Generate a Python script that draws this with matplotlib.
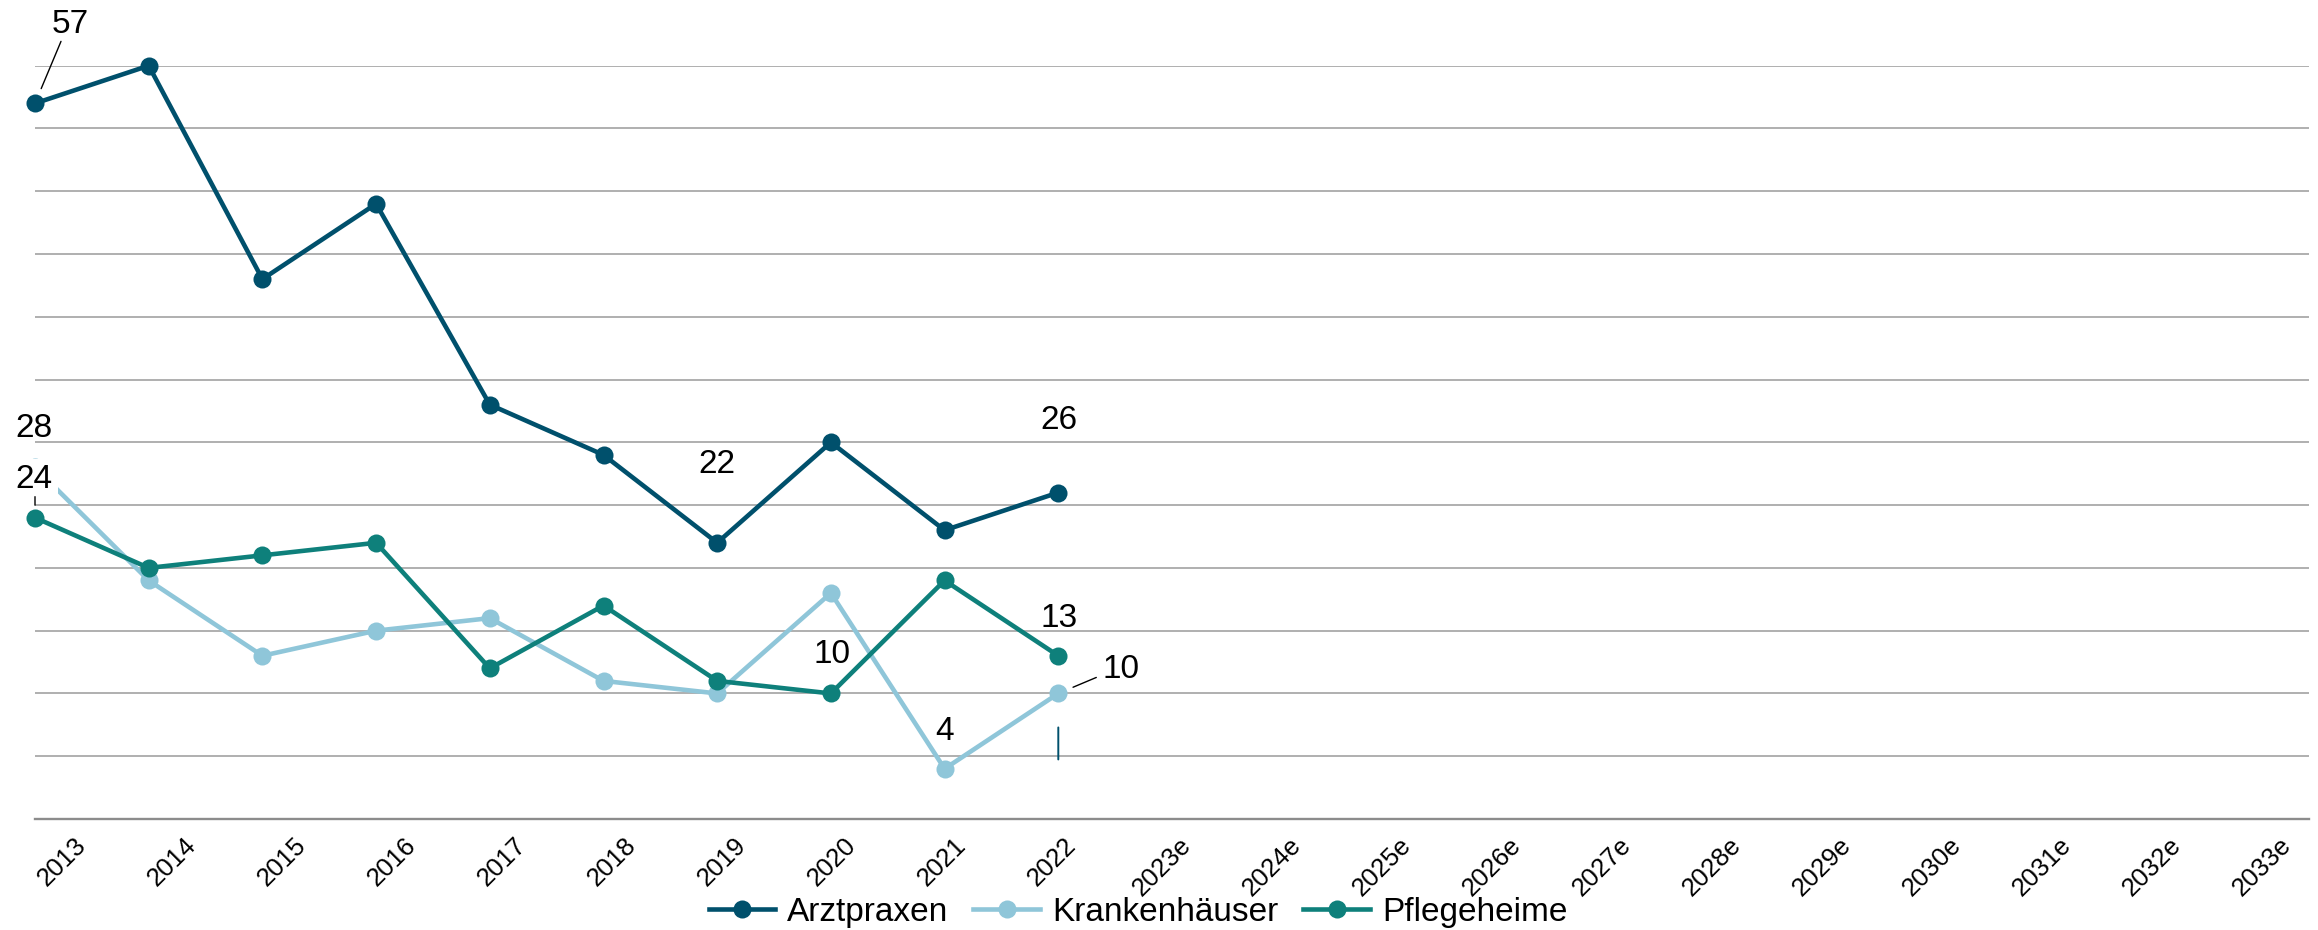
import matplotlib
import matplotlib.pyplot as plt

matplotlib.use("Agg")

plt.rcParams.update({
    "font.family": ["Liberation Sans", "DejaVu Sans"],
    "font.size": 24,
})

YEARS = [str(y) for y in range(2013, 2023)] + [f"{y}e" for y in range(2023, 2034)]

ARZTPRAXEN = [57, 60, 43, 49, 33, 29, 22, 30, 23, 26]
KRANKENHAEUSER = [28, 19, 13, 15, 16, 11, 10, 18, 4, 10]
PFLEGEHEIME = [24, 20, 21, 22, 12, 17, 11, 10, 19, 13]

SERIES = [
    ("Arztpraxen", ARZTPRAXEN, "#00506C"),
    ("Krankenhäuser", KRANKENHAEUSER, "#8FC6D9"),
    ("Pflegeheime", PFLEGEHEIME, "#0E807B"),
]

# (series index, year index, text offset in px, leader end offset in px or None, white box)
LABELS = [
    (0, 0, (35, 70), (26, 62), False),
    (0, 6, (0, 70), None, False),
    (0, 9, (1, 64), None, False),
    (1, 0, (-1, 30), None, False),
    (1, 8, (0, 29), None, False),
    (1, 9, (63, 15), (38, 16), False),
    (2, 0, (-1, 30), (0, 21), True),
    (2, 7, (1, 30), None, False),
    (2, 9, (1, 29), None, False),
]

W, H = 2318, 930
AX_LEFT, AX_RIGHT, AX_TOP, AX_BOTTOM = 35, 2309, 65.7, 819
# year labels sit on a slightly tighter grid than the data points
LAB_LEFT, LAB_RIGHT = 62, 2262

fig = plt.figure(figsize=(W / 100, H / 100), dpi=100)
ax = fig.add_axes([AX_LEFT / W, 1 - AX_BOTTOM / H,
                   (AX_RIGHT - AX_LEFT) / W, (AX_BOTTOM - AX_TOP) / H])

x_all = list(range(len(YEARS)))
for name, values, color in SERIES:
    ax.plot(x_all[:len(values)], values, color=color, linewidth=3.3,
            marker="o", markersize=13, markeredgewidth=0, label=name,
            clip_on=False, zorder=3)

for si, yi, (dx, dy), leader, boxed in LABELS:
    name, values, color = SERIES[si]
    v = values[yi]
    box = dict(boxstyle="square,pad=0.15", fc="white", ec="none") if boxed else None
    ax.annotate(str(v), xy=(yi, v), xytext=(dx, dy), textcoords="offset pixels",
                ha="center", va="baseline", fontsize=24, color="black",
                bbox=box, zorder=5, annotation_clip=False)
    if leader is not None:
        lx, ly = leader
        dist = (lx ** 2 + ly ** 2) ** 0.5
        shrink = 16 if dist > 30 else 12.5
        ax.annotate("", xy=(yi, v), xytext=(lx, ly), textcoords="offset pixels",
                    arrowprops=dict(arrowstyle="-", color="black", lw=1.0,
                                    shrinkA=0, shrinkB=shrink * 0.72),
                    zorder=6, annotation_clip=False)

# short stray leader below the last Krankenhäuser point
ax.annotate("", xy=(9, KRANKENHAEUSER[9]), xytext=(0, -66), textcoords="offset pixels",
            arrowprops=dict(arrowstyle="-", color=SERIES[0][2], lw=1.4,
                            shrinkA=0, shrinkB=34 * 0.72),
            zorder=6, annotation_clip=False)

ax.set_xlim(0, len(YEARS) - 1)
ax.set_ylim(0, 60)
ax.set_yticks(range(5, 61, 5))
ax.yaxis.grid(True, color="#9a9a9a", linewidth=1.1)
ax.set_axisbelow(True)
ax.tick_params(axis="y", length=0, labelleft=False)
ax.set_xticks(x_all)
ax.tick_params(axis="x", length=0, labelbottom=False)
for side in ["top", "right", "left"]:
    ax.spines[side].set_visible(False)
ax.spines["bottom"].set_color("#8c8c8c")
ax.spines["bottom"].set_linewidth(1.7)

# year labels on their own strip just below the plot
lab = fig.add_axes([LAB_LEFT / W, 1 - AX_BOTTOM / H, (LAB_RIGHT - LAB_LEFT) / W, 1e-4])
lab.set_xlim(0, len(YEARS) - 1)
lab.set_xticks(x_all)
lab.set_xticklabels(YEARS, rotation=45, ha="center", va="top", fontsize=18.5)
lab.tick_params(axis="x", length=0, pad=10)
lab.set_yticks([])
lab.patch.set_visible(False)
for side in lab.spines:
    lab.spines[side].set_visible(False)

fig.legend(loc="center", bbox_to_anchor=(1138 / W, 1 - 912 / H), ncol=3,
           frameon=False, fontsize=24, handlelength=2.0, handletextpad=0.36,
           columnspacing=0.75, borderpad=0, borderaxespad=0)

fig.savefig("out.png", dpi=100)
